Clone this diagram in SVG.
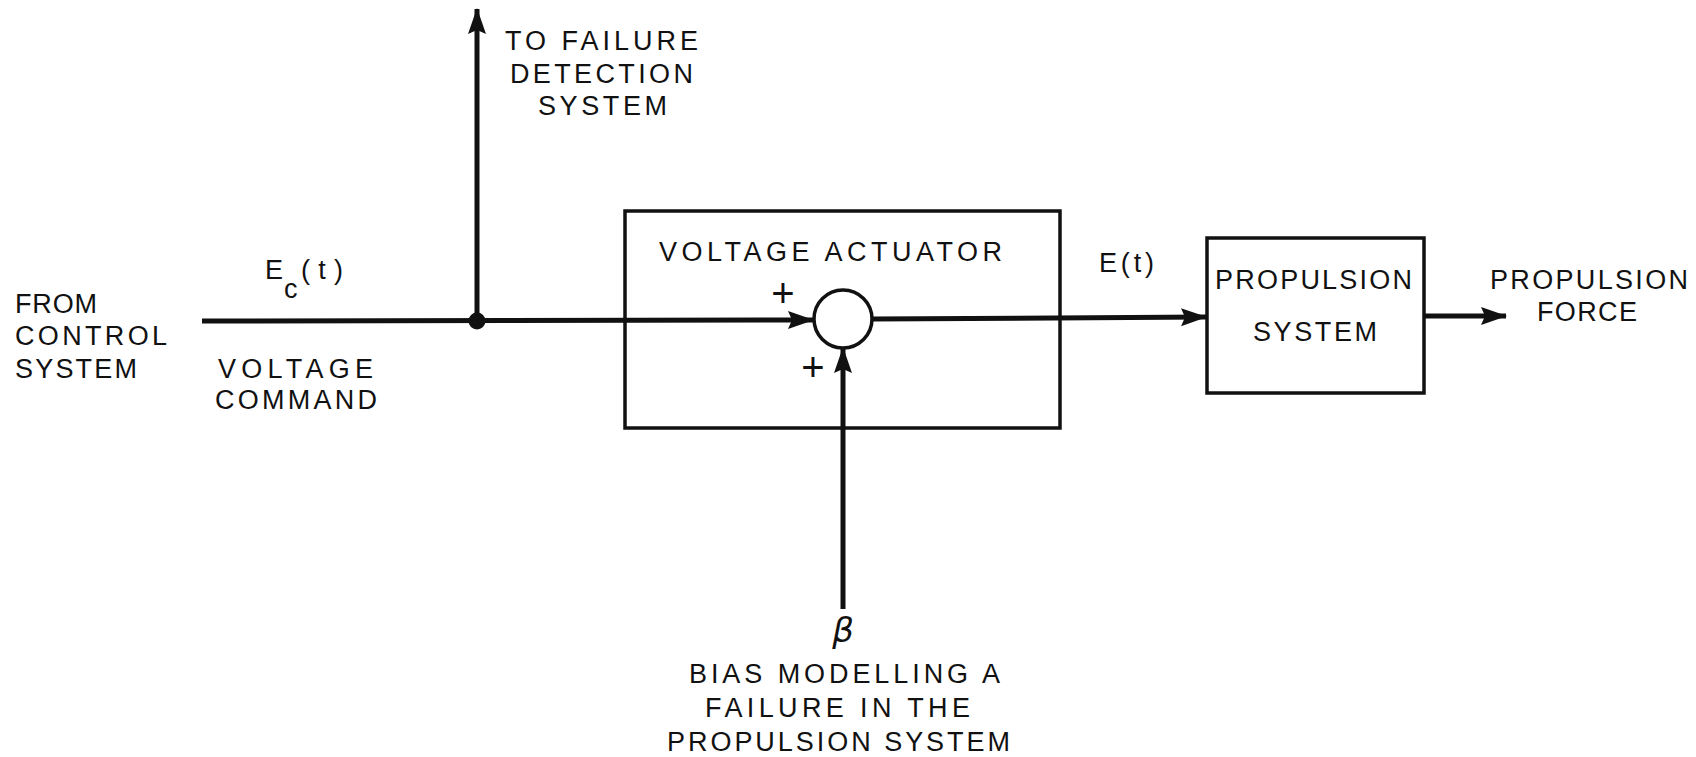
<svg xmlns="http://www.w3.org/2000/svg" width="1696" height="757" viewBox="0 0 1696 757">
<style>
  .t { font-family: "Liberation Sans", Arial, sans-serif; font-size: 27px; fill: #111; }
  .box { fill: none; stroke: #111; stroke-width: 3.5; }
  .ln { fill: none; stroke: #111; stroke-width: 5; }
  .pl { font-family: "Liberation Sans", Arial, sans-serif; font-size: 40px; fill: #111; text-anchor: middle; }
</style>
<defs>
  <marker id="ah" markerUnits="userSpaceOnUse" viewBox="0 0 26 20" refX="25" refY="10" markerWidth="26" markerHeight="20" orient="auto">
    <path d="M0,1 L26,10 L0,19 L4,10 z" fill="#111"/>
  </marker>
</defs>
<rect width="1696" height="757" fill="#fff"/>

<g id="connectors">
  <line class="ln" x1="202" y1="321" x2="813" y2="320" marker-end="url(#ah)"/>
  <line class="ln" x1="477" y1="321" x2="477" y2="9" marker-end="url(#ah)"/>
  <circle cx="477" cy="321" r="8.5" fill="#111"/>
  <line class="ln" x1="843" y1="609" x2="843" y2="348" marker-end="url(#ah)"/>
  <line class="ln" x1="872" y1="319" x2="1206" y2="317" marker-end="url(#ah)"/>
  <line class="ln" x1="1424" y1="316" x2="1506" y2="316" marker-end="url(#ah)"/>
</g>

<g id="input-label">
  <text class="t" x="15" y="313" textLength="82" lengthAdjust="spacing">FROM</text>
  <text class="t" x="15" y="345" textLength="152" lengthAdjust="spacing">CONTROL</text>
  <text class="t" x="15" y="378" textLength="122" lengthAdjust="spacing">SYSTEM</text>
</g>

<g id="ec-label">
  <text class="t" x="265" y="279">E</text>
  <text class="t" x="284" y="298">c</text>
  <text class="t" x="301" y="279" textLength="42" lengthAdjust="spacing">(t)</text>
</g>

<g id="voltage-command">
  <text class="t" x="218" y="378" textLength="155" lengthAdjust="spacing">VOLTAGE</text>
  <text class="t" x="215" y="409" textLength="162" lengthAdjust="spacing">COMMAND</text>
</g>

<g id="failure-detection">
  <text class="t" x="505" y="50" textLength="193" lengthAdjust="spacing">TO FAILURE</text>
  <text class="t" x="510" y="83" textLength="183" lengthAdjust="spacing">DETECTION</text>
  <text class="t" x="538" y="115" textLength="129" lengthAdjust="spacing">SYSTEM</text>
</g>

<g id="voltage-actuator">
  <rect class="box" x="625" y="211" width="435" height="217"/>
  <text class="t" x="659" y="261" textLength="343" lengthAdjust="spacing">VOLTAGE ACTUATOR</text>
</g>

<g id="summer">
  <circle cx="843" cy="319" r="29" fill="#fff" stroke="#111" stroke-width="3.5"/>
  <text class="pl" x="783" y="307">+</text>
  <text class="pl" x="813" y="381">+</text>
</g>

<g id="et-label">
  <text class="t" x="1099" y="272" textLength="55" lengthAdjust="spacing">E(t)</text>
</g>

<g id="propulsion-system">
  <rect class="box" x="1207" y="238" width="217" height="155"/>
  <text class="t" x="1215" y="289" textLength="197" lengthAdjust="spacing">PROPULSION</text>
  <text class="t" x="1253" y="341" textLength="124" lengthAdjust="spacing">SYSTEM</text>
</g>

<g id="propulsion-force">
  <text class="t" x="1490" y="289" textLength="198" lengthAdjust="spacing">PROPULSION</text>
  <text class="t" x="1537" y="321" textLength="100" lengthAdjust="spacing">FORCE</text>
</g>

<g id="bias">
  <text x="843" y="642" font-family="'DejaVu Sans', 'Liberation Sans', sans-serif" font-size="34" font-style="italic" text-anchor="middle" fill="#111">β</text>
  <text class="t" x="689" y="683" textLength="311" lengthAdjust="spacing">BIAS MODELLING A</text>
  <text class="t" x="705" y="717" textLength="265" lengthAdjust="spacing">FAILURE IN THE</text>
  <text class="t" x="667" y="751" textLength="343" lengthAdjust="spacing">PROPULSION SYSTEM</text>
</g>
</svg>
